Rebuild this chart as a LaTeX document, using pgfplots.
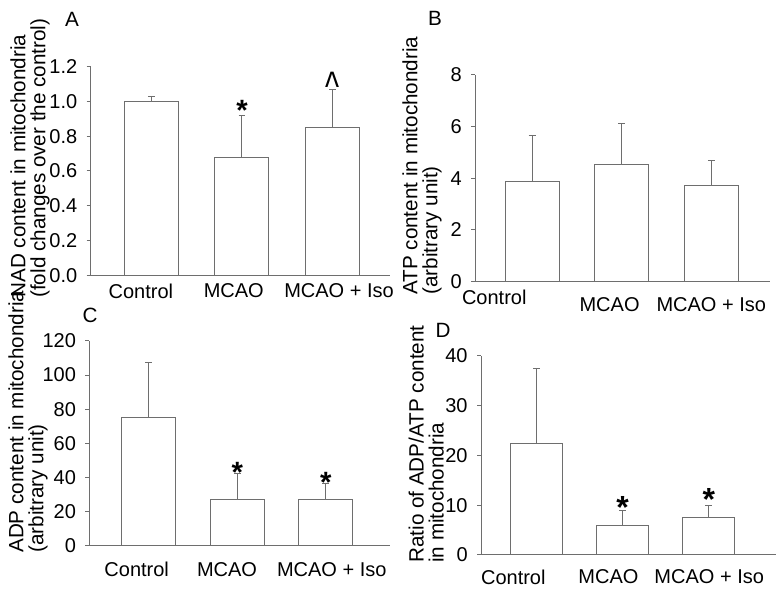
\documentclass[border=0pt]{standalone}
\usepackage{fontspec}
\setmainfont{Liberation Sans}
\usepackage{pgfplots}
\usepackage{pgfplotstable}
\pgfplotsset{compat=1.18}
\usetikzlibrary{calc}
\definecolor{linegray}{RGB}{110,110,110}

% group, mean, upper error
\pgfplotstableread{
x y err
1 1.000 0.030
2 0.677 0.243
3 0.852 0.218
}\nadtab
\pgfplotstableread{
x y err
1 3.86 1.81
2 4.54 1.59
3 3.73 0.95
}\atptab
\pgfplotstableread{
x y err
1 75.0 32.5
2 27.2 15.2
3 27.2 9.4
}\adptab
\pgfplotstableread{
x y err
1 22.3 15.2
2 5.9 3.0
3 7.6 2.3
}\ratiotab

\tikzset{star/.style={font=\bfseries\fontsize{22}{22}\selectfont, anchor=base, inner sep=0pt}}

\pgfplotsset{
  panel/.style={
    scale only axis,
    axis lines=left,
    axis line style={-, draw=linegray, line width=0.75pt},
    ymin=0,
    clip=false,
    tick align=outside,
    major tick length=3pt,
    xtick style={draw=none},
    ytick style={draw=linegray, line width=0.75pt},
    tick label style={font=\fontsize{15}{15}\selectfont, text=black},
    yticklabel style={xshift=-3.5pt},
    /pgf/number format/assume math mode=true,
    ylabel style={font=\fontsize{15.5}{15}\selectfont, align=left, inner sep=0pt, anchor=south west},
  },
  bars/.style={
    ybar, bar width=40.5pt, bar shift=0pt,
    draw=linegray, fill=white, line width=0.75pt,
    error bars/y dir=plus, error bars/y explicit,
    error bars/error bar style={draw=linegray, line width=0.75pt},
    error bars/error mark options={draw=linegray, line width=0.75pt, mark size=2.6pt, rotate=90},
  },
}

\begin{document}
\begin{tikzpicture}
\useasboundingbox (0,0) rectangle (584.25pt,446.25pt);

% A
\begin{axis}[panel,
  at={(68pt,239.8pt)}, anchor=south west,
  width=224.5pt, height=156.5pt,
  xmin=0.332, xmax=3.632, ymax=1.2,
  ytick={0,0.2,...,1.2},
  yticklabel style={/pgf/number format/.cd, fixed, fixed zerofill, precision=1},
  xtick={0.886,1.91,3.07},
  xticklabels={Control, MCAO, MCAO + Iso},
  ylabel={NAD content in mitochondria\\(fold changes over the control)},
  ylabel style={at={($(rel axis cs:0,0)+(-30.5pt,-17pt)$)}},
]
\addplot[bars] table[x=x, y=y, y error=err] {\nadtab};
\node[star] at (axis cs:2,0.92) [yshift=-4pt] {*};
\node[font=\fontsize{16}{16}\selectfont, anchor=base, inner sep=0pt] at (axis cs:3,1.07) [yshift=-9pt] {\scalebox{1.4}[2.0]{\textasciicircum}};
\end{axis}

% B
\begin{axis}[panel,
  at={(356.25pt,235pt)}, anchor=south west,
  width=221.25pt, height=155pt,
  xmin=0.361, xmax=3.656, ymax=8,
  ytick={0,2,...,8},
  xtick={0.576},
  xticklabels={Control},
  extra x ticks={1.864,3.0},
  extra x tick labels={MCAO, MCAO + Iso},
  extra x tick style={xticklabel style={yshift=-5.3pt}},
  ylabel={ATP content in mitochondria\\(arbitrary unit)},
  ylabel style={at={($(rel axis cs:0,0)+(-24.75pt,-10pt)$)}},
]
\addplot[bars] table[x=x, y=y, y error=err] {\atptab};
\end{axis}

% C
\begin{axis}[panel,
  at={(67pt,37pt)}, anchor=south west,
  width=225.5pt, height=153.5pt,
  xmin=0.329, xmax=3.725, ymax=120,
  ytick={0,20,...,120},
  xtick={0.864,1.884,3.067},
  xticklabels={Control, MCAO, MCAO + Iso},
  xticklabel style={yshift=-6pt},
  ylabel={ADP content in mitochondria\\(arbitrary unit)},
  ylabel style={at={($(rel axis cs:0,0)+(-31pt,-5.5pt)$)}},
]
\addplot[bars] table[x=x, y=y, y error=err] {\adptab};
\node[star] at (axis cs:2,42.4) [yshift=-7pt] {*};
\node[star] at (axis cs:3,36.6) [yshift=-7pt] {*};
\end{axis}

% D
\begin{axis}[panel,
  at={(360.75pt,30pt)}, anchor=south west,
  width=221.25pt, height=149.5pt,
  xmin=0.356, xmax=3.78, ymax=40,
  ytick={0,10,...,40},
  xtick={0.731,1.835,3.005},
  xticklabels={Control, MCAO, MCAO + Iso},
  xticklabel style={yshift=-4.5pt},
  ylabel={Ratio of ADP/ATP content\\in mitochondria},
  ylabel style={at={($(rel axis cs:0,0)+(-27.75pt,-6pt)$)}},
]
\addplot[bars, bar width=39pt] table[x=x, y=y, y error=err] {\ratiotab};
\node[star, font=\bfseries\fontsize{24}{24}\selectfont] at (axis cs:2,8.9) [yshift=-6.2pt] {*};
\node[star, font=\bfseries\fontsize{24}{24}\selectfont] at (axis cs:3,9.9) [yshift=-4pt] {*};
\end{axis}

% panel letters
\node[font=\fontsize{15.5}{15.5}\selectfont] at (54pt,432pt) {A};
\node[font=\fontsize{15.5}{15.5}\selectfont] at (326.25pt,432.75pt) {B};
\node[font=\fontsize{15.5}{15.5}\selectfont] at (67.5pt,210pt) {C};
\node[font=\fontsize{15.5}{15.5}\selectfont] at (332.25pt,198.75pt) {D};
\end{tikzpicture}
\end{document}
